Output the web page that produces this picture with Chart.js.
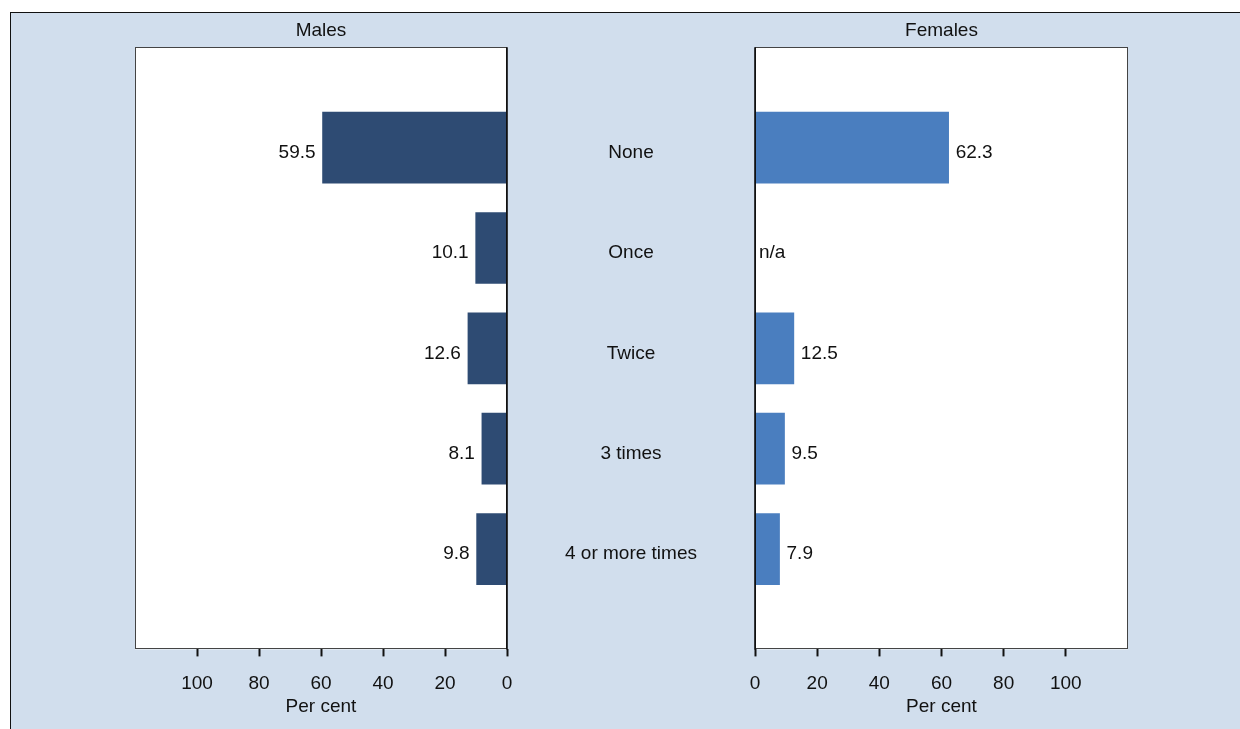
<!DOCTYPE html>
<html>
<head>
<meta charset="utf-8">
<title>Males / Females</title>
<script src="https://cdn.jsdelivr.net/npm/chart.js@4.4.1/dist/chart.umd.min.js"></script>
<style>
  html, body { margin: 0; padding: 0; background: #fff; }
  #frame {
    position: absolute; left: 10px; top: 12px;
    width: 1230px; height: 717px; box-sizing: border-box;
    border-top: 1px solid #111; border-left: 1px solid #111;
    background: #d1deed; overflow: hidden;
  }
  #frame canvas { position: absolute; top: 0; }
  #maleChart   { left: 0; }
  #femaleChart { left: 719px; }
</style>
</head>
<body>
<div id="frame">
  <canvas id="maleChart" width="744" height="716"></canvas>
  <canvas id="femaleChart" width="510" height="716"></canvas>
</div>
<script>
/* ── DATA ── */
const categories   = ['None', 'Once', 'Twice', '3 times', '4 or more times'];
const maleValues   = [59.5, 10.1, 12.6, 8.1, 9.8];
const femaleValues = [62.3, null, 12.5, 9.5, 7.9];   // null -> n/a
const xTicks       = [0, 20, 40, 60, 80, 100];

const MALE_COL   = '#2e4b73';
const FEMALE_COL = '#4a7ebf';
const FONT = "'Liberation Sans', Arial, sans-serif";
const FSIZE = 19;

Chart.defaults.font.family = FONT;
Chart.defaults.font.size   = FSIZE;
Chart.defaults.color       = '#111';

// blank slot top and bottom so the bars sit one step in from the frame
const slots = ['', ...categories, ''];
const pad   = arr => [null, ...arr, null];

/* ── PLUGINS ── */
const plotBox = {
  id: 'plotBox',
  beforeDraw(chart) {
    const { ctx, chartArea: a } = chart;
    ctx.save();
    ctx.fillStyle = '#fff';
    ctx.fillRect(a.left, a.top, a.right - a.left, a.bottom - a.top);
    ctx.restore();
  },
  afterDraw(chart) {
    const { ctx, chartArea: a } = chart;
    const l = Math.round(a.left) + 0.5, r = Math.round(a.right) - 0.5;
    const t = Math.round(a.top) + 0.5,  b = Math.round(a.bottom) - 0.5;
    ctx.save();
    ctx.strokeStyle = '#444';
    ctx.lineWidth = 1;
    ctx.strokeRect(l, t, r - l, b - t);
    // zero line
    const x0 = Math.round(chart.scales.x.getPixelForValue(0));
    ctx.strokeStyle = '#000';
    ctx.lineWidth = 1.5;
    ctx.beginPath();
    ctx.moveTo(x0, a.top);
    ctx.lineTo(x0, a.bottom);
    ctx.stroke();
    ctx.restore();
  }
};

const valueLabels = {
  id: 'valueLabels',
  afterDatasetsDraw(chart, args, opts) {
    const { ctx } = chart;
    const xs = chart.scales.x, ys = chart.scales.y;
    const data = chart.data.datasets[0].data;
    const dir = opts.side === 'left' ? -1 : 1;
    ctx.save();
    ctx.font = `${FSIZE}px ${FONT}`;
    ctx.fillStyle = '#111';
    ctx.textBaseline = 'middle';
    ctx.textAlign = dir < 0 ? 'right' : 'left';
    chart.data.labels.forEach((lab, i) => {
      if (!lab) return;
      const v = data[i];
      const y = ys.getPixelForValue(i) + 5;
      if (v == null) {
        ctx.fillText('n/a', xs.getPixelForValue(0) + dir * 4, y);
      } else {
        ctx.fillText(v.toFixed(1), xs.getPixelForValue(v) + dir * 7, y);
      }
    });
    ctx.restore();
  }
};

const categoryLabels = {
  id: 'categoryLabels',
  afterDraw(chart, args, opts) {
    if (!opts.show) return;
    const { ctx, chartArea: a } = chart;
    const ys = chart.scales.y;
    ctx.save();
    ctx.font = `${FSIZE}px ${FONT}`;
    ctx.fillStyle = '#111';
    ctx.textAlign = 'center';
    ctx.textBaseline = 'middle';
    chart.data.labels.forEach((lab, i) => {
      if (lab) ctx.fillText(lab, a.right + 124, ys.getPixelForValue(i) + 5);
    });
    ctx.restore();
  }
};

/* ── SHARED SCALES ── */
function xScale(reverse) {
  return {
    type: 'linear', min: 0, max: 120, reverse,
    afterBuildTicks: s => { s.ticks = xTicks.map(v => ({ value: v })); },
    grid:   { drawOnChartArea: false, drawTicks: true, tickLength: 7, tickWidth: 2, tickColor: '#111' },
    border: { display: false },
    ticks:  { padding: 16, color: '#111', maxRotation: 0, autoSkip: false },
    title:  { display: true, text: 'Per cent', color: '#111', padding: { top: -16, bottom: 4 } }
  };
}

function yScale() {
  return { type: 'category', offset: false, display: false };
}

function makeChart(id, title, values, color, reverse, padding, side) {
  return new Chart(document.getElementById(id), {
    type: 'bar',
    data: {
      labels: slots,
      datasets: [{ data: pad(values), backgroundColor: color, borderWidth: 0, barThickness: 71 }]
    },
    options: {
      indexAxis: 'y',
      responsive: false,
      animation: false,
      layout: { padding },
      scales: { x: xScale(reverse), y: yScale() },
      plugins: {
        legend:  { display: false },
        tooltip: { enabled: false },
        title: {
          display: true, text: title, color: '#111', fullSize: false,
          font: { size: FSIZE, weight: 'normal' }, padding: { top: 6, bottom: 5.5 }
        },
        valueLabels:    { side },
        categoryLabels: { show: side === 'left' }
      }
    },
    plugins: [plotBox, valueLabels, categoryLabels]
  });
}

makeChart('maleChart',   'Males',   maleValues,   MALE_COL,   true,
  { left: 124, right: 248, top: 0, bottom: 7 }, 'left');
makeChart('femaleChart', 'Females', femaleValues, FEMALE_COL, false,
  { left: 25, right: 112, top: 0, bottom: 7 }, 'right');
</script>
</body>
</html>
